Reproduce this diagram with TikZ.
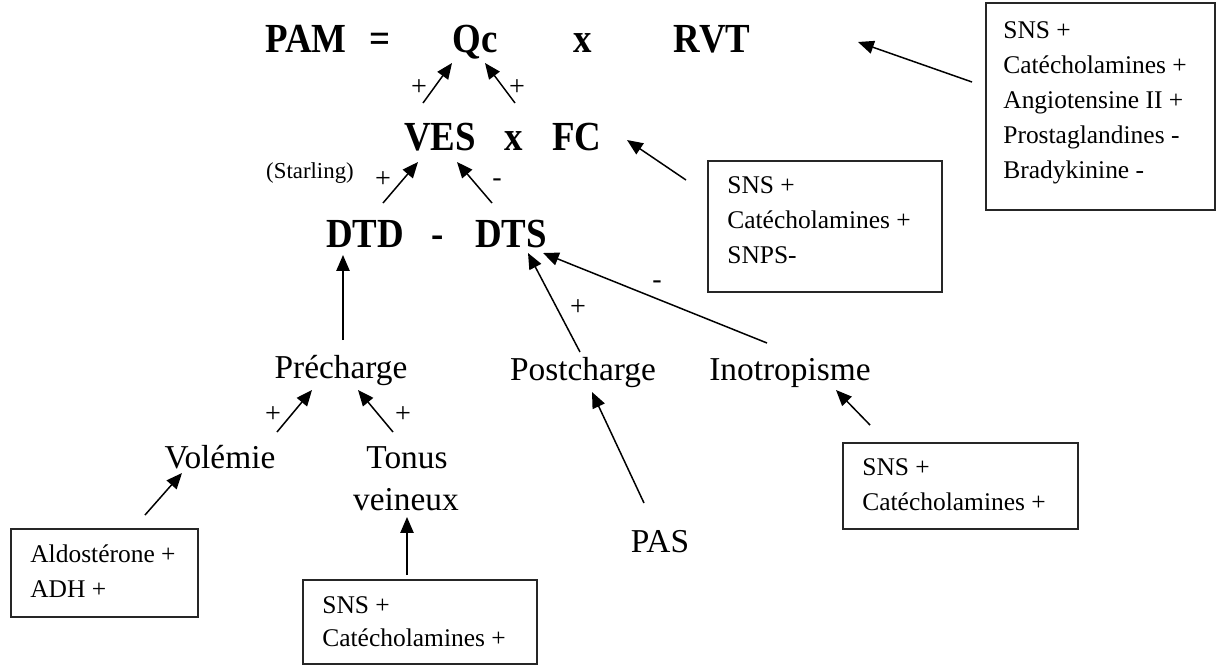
\documentclass[tikz,border=0pt]{standalone}
\usepackage{fontspec}
\setmainfont{Liberation Serif}
\usetikzlibrary{arrows.meta,fit}
\tikzset{
  big/.style={font=\fontsize{21}{25}\selectfont\bfseries, inner sep=0pt, anchor=base, yscale=1.12, transform shape},
  mid/.style={font=\fontsize{19}{23}\selectfont, inner sep=0pt, anchor=base},
  sgn/.style={font=\fontsize{16}{19}\selectfont, inner sep=0pt},
  small/.style={font=\fontsize{13}{16}\selectfont, inner sep=0pt, anchor=base},
  boxline/.style={font=\fontsize{14.5}{18}\selectfont, inner sep=0pt, anchor=base west},
  box/.style={draw=black!85, line width=0.8pt, inner sep=0pt},
  arr/.style={line width=0.85pt, -{Triangle[length=9pt,width=7.5pt]}}
}
\begin{document}
\begin{tikzpicture}[x=0.02cm, y=-0.02cm]
\useasboundingbox (0,0) rectangle (1218,667);
% top row
\node[big] (pam) at (306,52) {PAM};
\node[big] (eq) at (380,52) {=};
\node[big] (qc) at (475,52) {Qc};
\node[big] (x1) at (583,52) {x};
\node[big] (rvt) at (712,52) {RVT};
% second row
\node[big] (ves) at (440,150) {VES};
\node[big] (x2) at (514,150) {x};
\node[big] (fc) at (577,150) {FC};
\node[small] (starling) at (310,178) {(Starling)};
% third row
\node[big] (dtd) at (365,247) {DTD};
\node[big] (minus) at (438,247) {-};
\node[big] (dts) at (511,247) {DTS};
% fourth row
\node[mid] (pre) at (341,378) {Précharge};
\node[mid] (post) at (583,380) {Postcharge};
\node[mid] (ino) at (790,380) {Inotropisme};
% fifth row
\node[mid] (vol) at (220,468) {Volémie};
\node[mid] (tonus) at (407,468) {Tonus};
\node[mid] (vein) at (406,510) {veineux};
\node[mid] (pas) at (660,552) {PAS};
% boxes
\node[box, fit={(986,3) (1215,210)}] (bR) {};
\node[boxline] (bR1) at (1003,38) {SNS +};
\node[boxline] (bR2) at (1003,73) {Catécholamines +};
\node[boxline] (bR3) at (1003,108) {Angiotensine II +};
\node[boxline] (bR4) at (1003,143) {Prostaglandines -};
\node[boxline] (bR5) at (1003,178) {Bradykinine -};
\node[box, fit={(708,161) (942,292)}] (bF) {};
\node[boxline] (bF1) at (727,193) {SNS +};
\node[boxline] (bF2) at (727,228) {Catécholamines +};
\node[boxline] (bF3) at (727,263) {SNPS-};
\node[box, fit={(843,443) (1078,529)}] (bI) {};
\node[boxline] (bI1) at (862,475) {SNS +};
\node[boxline] (bI2) at (862,510) {Catécholamines +};
\node[box, fit={(11,529) (198,617)}] (bA) {};
\node[boxline] (bA1) at (30,562) {Aldostérone +};
\node[boxline] (bA2) at (30,597) {ADH +};
\node[box, fit={(303,580) (537,664)}] (bT) {};
\node[boxline] (bT1) at (322,613) {SNS +};
\node[boxline] (bT2) at (322,646) {Catécholamines +};
% signs
\node[sgn] (s1) at (419,88) {+};
\node[sgn] (s2) at (517,88) {+};
\node[sgn] (s3) at (383,180) {+};
\node[sgn] (s4) at (497,183) {-};
\node[sgn] (s5) at (578,308) {+};
\node[sgn] (s6) at (657,285) {-};
\node[sgn] (s7) at (273,415) {+};
\node[sgn] (s8) at (403,415) {+};
% arrow end points
\coordinate (t1) at (423,103); \coordinate (h1) at (452,63);
\coordinate (t2) at (515,103); \coordinate (h2) at (485,63);
\coordinate (t3) at (383,203); \coordinate (h3) at (418,162);
\coordinate (t4) at (492,203); \coordinate (h4) at (457,162);
\coordinate (t5) at (686,180); \coordinate (h5) at (627,140);
\coordinate (t6) at (972,82);  \coordinate (h6) at (858,42);
\coordinate (t7) at (343,340); \coordinate (h7) at (343,255);
\coordinate (t8) at (580,352); \coordinate (h8) at (528,253);
\coordinate (t9) at (767,343); \coordinate (h9) at (543,253);
\coordinate (t10) at (277,432); \coordinate (h10) at (312,390);
\coordinate (t11) at (393,432); \coordinate (h11) at (358,390);
\coordinate (t12) at (145,515); \coordinate (h12) at (182,473);
\coordinate (t13) at (407,575); \coordinate (h13) at (407,517);
\coordinate (t14) at (644,503); \coordinate (h14) at (592,392);
\coordinate (t15) at (870,425); \coordinate (h15) at (836,390);
\foreach \i in {1,...,15} { \draw[arr] (t\i) -- (h\i); }
\end{tikzpicture}
\end{document}
